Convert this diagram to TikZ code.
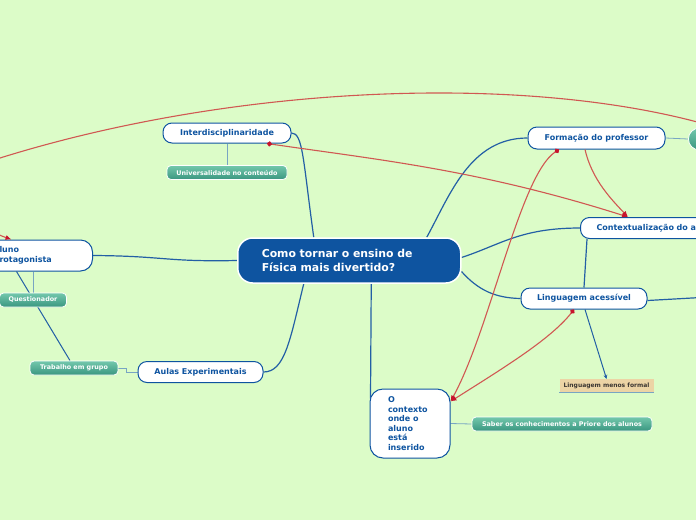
\documentclass[tikz,border=0pt]{standalone}
\usepackage{fontspec}
\setmainfont{DejaVu Sans}
\usetikzlibrary{calc,arrows.meta,backgrounds}

\definecolor{mapbg}{RGB}{220,252,200}
\definecolor{mapblue}{RGB}{14,84,160}
\definecolor{linkblue}{RGB}{35,95,165}
\definecolor{thinblue}{RGB}{120,165,195}
\definecolor{tealtop}{RGB}{115,200,172}
\definecolor{tealbot}{RGB}{58,150,128}
\definecolor{tanbox}{RGB}{236,212,165}
\definecolor{relred}{RGB}{208,88,82}
\definecolor{tipred}{RGB}{200,20,45}

\tikzset{
  central/.style={fill=mapblue, draw=white, line width=1.5pt, rounded corners=15pt, text=white,
    font=\bfseries\fontsize{10.9}{14}\selectfont, align=left, inner ysep=0pt},
  topic/.style={draw=mapblue, line width=1pt, fill=white, rounded corners=9pt, text=mapblue,
    font=\bfseries\fontsize{8}{9.6}\selectfont, inner sep=0pt, minimum height=21pt},
  leaf/.style={draw=white, line width=0.8pt, rounded corners=4pt, top color=tealtop, bottom color=tealbot,
    text=white, font=\bfseries\fontsize{6.4}{7}\selectfont, inner sep=0pt, minimum height=14pt},
  branch/.style={draw=linkblue, line width=1.2pt},
  twig/.style={draw=thinblue, line width=0.8pt},
  rel/.style={draw=relred, line width=1.1pt, -{Latex[length=6pt,width=5pt,color=tipred]}},
  reldot/.style={rel, {Circle[length=5pt,color=tipred]}-{Latex[length=6pt,width=5pt,color=tipred]}}
}

\begin{document}
\begin{tikzpicture}[x=1pt,y=-1pt]
\useasboundingbox (0,0) rectangle (696,520);
\begin{scope}[on background layer]
  \fill[mapbg] (0,0) rectangle (696,520);
\end{scope}
\clip (0,0) rectangle (696,520);

\node[central, anchor=west, text width=175pt, inner xsep=24pt, minimum height=45pt] (cq) at (237,260.5) {Como tornar o ensino de\\Física mais divertido?};
\node[topic, minimum width=128pt, minimum height=20pt] (inter) at (227,133) {Interdisciplinaridade};
\node[leaf, minimum width=120pt] (univ) at (227,172.5) {Universalidade no conteúdo};
\node[topic, minimum width=137pt, minimum height=22pt] (form) at (596.5,138) {Formação do professor};
\node[leaf, anchor=west, minimum width=40pt, minimum height=22pt, rounded corners=11pt] (formleaf) at (688,139) {};
\node[topic, anchor=west, text width=130pt, inner xsep=16pt, align=left] (ctx) at (580,228) {Contextualização do a};
\node[topic, minimum width=126pt] (ling) at (584,298.5) {Linguagem acessível};
\node[fill=tanbox, text={rgb,255:red,60;green,55;blue,50}, font=\bfseries\fontsize{6}{7}\selectfont,
  minimum width=94pt, minimum height=13pt, inner sep=0pt] (menos) at (606.5,385.5) {Linguagem menos formal};
\node[topic, rounded corners=13pt, minimum width=80pt, minimum height=69pt, text width=44pt, align=left] (ctxaluno) at (410,423.5) {O\\contexto\\onde o\\aluno\\está\\inserido};
\node[leaf, minimum width=180pt] (saber) at (562,424) {Saber os conhecimentos a Priore dos alunos};
\node[topic, minimum width=125pt] (aulas) at (200.5,372) {Aulas Experimentais};
\node[leaf, minimum width=88pt] (trab) at (74,368) {Trabalho em grupo};
\node[leaf, minimum width=67pt] (quest) at (33,300) {Questionador};
\node[topic, anchor=east, text width=70pt, inner xsep=23pt, minimum height=31pt, rounded corners=12pt, align=left] (aluno) at (93,255.5) {luno\\rotagonista};
\coordinate (offright) at (710,297);
\coordinate (offtop) at (740,135);

\begin{scope}[on background layer]
  \clip (0,0) rectangle (696,520);
  \draw[branch] ($(cq.north)+(-35.5,0)$) .. controls (303,160) and (303,133) .. (inter.east);
  \draw[branch] ($(cq.north)+(77.5,0)$) .. controls (450,195) and (470,138) .. (form.west);
  \draw[branch] ($(cq.east)+(0,-3)$) .. controls (500,245) and (520,228) .. (ctx.west);
  \draw[branch] ($(cq.east)+(0,11)$) .. controls (478,290) and (495,298) .. (ling.west);
  \draw[branch] ($(cq.south)+(22,0)$) -- ($(ctxaluno.north west)+(1,10)$);
  \draw[branch] ($(cq.south)+(-45.5,0)$) .. controls (290,340) and (285,372) .. (aulas.east);
  \draw[branch] (cq.west) .. controls (165,262) and (165,256) .. (aluno.east);
  \draw[branch] ($(ctx.south west)+(7,0)$) -- (ling.north);
  \draw[branch] ($(ling.east)+(0,2)$) -- (offright);
  \draw[branch, line width=1pt, -{Stealth[length=4pt,width=4pt]}] ($(ling.south)+(1,0)$) -- (menos.north);
  \draw[branch, line width=1pt] ($(aluno.south)+(-18,0)$) -- ($(trab.north)+(-4,0)$);
  \draw[twig] (form.east) -- (formleaf.west);
  \draw[twig] (inter.south) -- (univ.north);
  \draw[twig] (quest.north |- aluno.south) -- (quest.north);
  \draw[twig] (aulas.west) -- ++(-11,0) |- (trab.east);
  \draw[twig] (ctxaluno.east) -- (saber.west);
\end{scope}
\draw[thinblue, line width=0.8pt] (menos.south west) -- (menos.south east);

\draw[rel] (offtop) .. controls (560,72) and (250,80) .. (0,158) .. controls (-80,183) and (-30,225) .. ($(aluno.north)+(-23,0)$);
\draw[reldot] ($(inter.south)+(40,0)$) .. controls (380,160) and (480,170) .. ($(ctx.north west)+(48,0)$);
\draw[rel] ($(form.south)+(-11.5,0)$) .. controls (592,180) and (612,200) .. ($(ctx.north west)+(48,0)$);
\draw[reldot] ($(form.south)+(-37.5,0)$) .. controls (520,175) and (490,330) .. ($(ctxaluno.north east)+(0,13)$);
\draw[reldot] ($(ling.south)+(-10,0)$) .. controls (550,340) and (500,370) .. ($(ctxaluno.north east)+(0,13)$);
\end{tikzpicture}
\end{document}
